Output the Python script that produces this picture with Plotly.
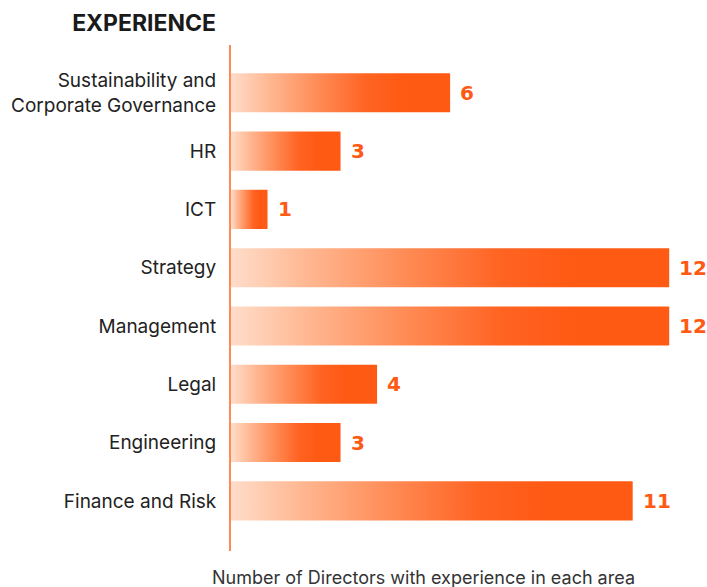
import plotly.graph_objects as go

# data, top to bottom as shown
categories = ["Sustainability and<br>Corporate Governance", "HR", "ICT", "Strategy",
              "Management", "Legal", "Engineering", "Finance and Risk"]
directors = [6, 3, 1, 12, 12, 4, 3, 11]

orange = "#FF5A14"
ramp = [[0, "#FFDDCA"], [0.18, "#FFB690"], [0.4, "#FF8B55"],
        [0.62, "#FF6322"], [0.78, orange], [1, orange]]
half = 0.335  # half bar thickness in category units

fig = go.Figure()

# each bar is a filled shape so it can carry its own left-to-right gradient
for i, v in enumerate(directors):
    fig.add_trace(go.Scatter(
        x=[0, v, v, 0, 0],
        y=[i - half, i - half, i + half, i + half, i - half],
        mode="lines", line=dict(width=0),
        fill="toself",
        fillgradient=dict(type="horizontal", colorscale=ramp),
        hoverinfo="skip", showlegend=False,
    ))
    fig.add_annotation(x=v, y=i, text=f"<b>{v}</b>", showarrow=False,
                       xanchor="left", xshift=8,
                       font=dict(family="DejaVu Sans", size=20, color=orange))

fig.add_annotation(xref="paper", yref="paper", x=0.407, y=-0.053,
                   text="Number of Directors with experience in each area",
                   showarrow=False, yanchor="middle",
                   font=dict(family="Inter", size=18, color="#333333"))

fig.update_layout(
    width=707, height=587,
    margin=dict(l=231, r=2, t=45, b=36),
    paper_bgcolor="white", plot_bgcolor="white",
    font=dict(family="Inter", color="#222222"),
    title=dict(text="<b>EXPERIENCE</b>", x=216 / 707, xanchor="right",
               y=1 - 23 / 587, yanchor="middle",
               font=dict(family="Inter", size=23, color="#1a1a1a")),
    xaxis=dict(range=[0, 12.98], showgrid=False, zeroline=False,
               showticklabels=False, showline=False),
    yaxis=dict(range=[7.86, -0.82], tickvals=list(range(len(categories))),
               ticktext=categories, showgrid=False, zeroline=False,
               showline=True, linecolor="#FF8A55", linewidth=2,
               ticks="", ticklabelstandoff=9,
               tickfont=dict(family="Inter", size=19, color="#222222")),
)

# drop the page's default body margin so the figure sits at the window corner
fig.write_html("out.html", config={"displayModeBar": False},
               post_script="document.body.style.margin='0';")
